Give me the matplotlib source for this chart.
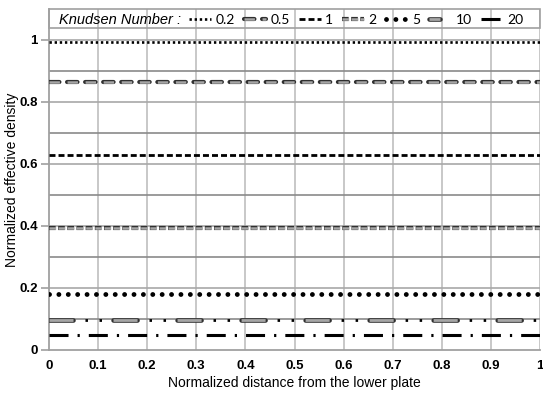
import matplotlib
matplotlib.use("Agg")
import matplotlib.pyplot as plt
import matplotlib.patheffects as pe
from matplotlib.patches import Rectangle
from matplotlib.legend_handler import HandlerTuple
import numpy as np

plt.rcParams['lines.scale_dashes'] = False

knudsen = ['0.2', '0.5', '1', '2', '5', '10', '20']
density = [0.995, 0.865, 0.63, 0.395, 0.18, 0.097, 0.05]
x_ends = [0.0, 1.0]
x_ticks = [0, 0.1, 0.2, 0.3, 0.4, 0.5, 0.6, 0.7, 0.8, 0.9, 1]
x_ticklabels = ['0', '0.1', '0.2', '0.3', '0.4', '0.5', '0.6', '0.7', '0.8', '0.9', '1']
y_ticks = [0, 0.2, 0.4, 0.6, 0.8, 1]
y_ticklabels = ['0', '0.2', '0.4', '0.6', '0.8', '1']

fig = plt.figure(figsize=(5.43, 3.96), dpi=100)
ax = fig.add_axes([49/543, 1-350/396, (540-49)/543, (350-9)/396])
ax.set_xlim(0, 1)
ax.set_ylim(0, 1.1)

# gridlines
for xv in np.arange(0.1, 1.01, 0.1):
    ax.axvline(xv, color='#c4c4c4', lw=1.3, zorder=1)
for i in range(1, 11):
    yv = i * 0.1
    col = '#a8a8a8' if i % 2 == 0 else '#8a8a8a'
    ax.axhline(yv, color=col, lw=1.2, zorder=1)

def outline(lw, cap='butt'):
    return [pe.Stroke(linewidth=lw, foreground='#303030', capstyle=cap), pe.Normal()]

handles = []
y = density
# 0.2 small dots
h, = ax.plot(x_ends, [y[0]]*2, color='black', lw=1.9, ls=(0, (1.7, 2.0)),
             dash_capstyle='butt', zorder=3)
handles.append(h)
# 0.5 outlined gray dashes
h, = ax.plot(x_ends, [y[1]]*2, color='#a6a6a6', lw=1.8, ls=(0, (7.5, 5.5)),
             dash_capstyle='butt', zorder=3, path_effects=outline(3.0, 'round'))
handles.append(h)
# 1 black dashes
h, = ax.plot(x_ends, [y[2]]*2, color='black', lw=2.0, ls=(0, (4.3, 2.2)),
             dash_capstyle='butt', zorder=3)
handles.append(h)
# 2 outlined gray dense dashes
h, = ax.plot(x_ends, [y[3]]*2, color='#a6a6a6', lw=1.8, ls=(0, (4.8, 1.8)),
             dash_capstyle='butt', zorder=3, path_effects=outline(3.0))
handles.append(h)
# 5 round dots
h, = ax.plot(x_ends, [y[4]]*2, color='black', lw=3.5, ls=(0, (0.01, 6.75)),
             dash_capstyle='round', zorder=3)
handles.append(h)
# 10 long outlined gray dash + two dots
h10a, = ax.plot(x_ends, [y[5]]*2, color='#a6a6a6', lw=2.0, ls=(0, (17.3, 28.8)),
                dash_capstyle='butt', zorder=3, path_effects=outline(3.3, 'round'))
h10b, = ax.plot(x_ends, [y[5]]*2, color='black', lw=2.0, ls=(20.2, (1.8, 8.3, 1.8, 34.2)),
                dash_capstyle='butt', zorder=3)
handles.append((h10a, h10b))
# 20 dash-dot
h, = ax.plot(x_ends, [y[6]]*2, color='black', lw=2.2, ls=(0, (13.7, 6.5, 1.6, 6.5)),
             dash_capstyle='butt', zorder=3)
handles.append(h)

# axes styling
for s in ['top', 'right']:
    ax.spines[s].set_visible(False)
for s in ['left', 'bottom']:
    ax.spines[s].set_color('#a0a0a0')
    ax.spines[s].set_linewidth(1.3)
ax.set_xticks(x_ticks)
ax.set_xticklabels(x_ticklabels, fontfamily='Liberation Sans', fontweight='bold', fontsize=9.5)
ax.set_yticks(y_ticks)
ax.set_yticklabels(y_ticklabels, fontfamily='Liberation Sans', fontweight='bold', fontsize=9.5)
ax.tick_params(axis='y', direction='out', length=6, color='#a0a0a0', width=1.2, pad=2)
ax.tick_params(axis='x', length=0, pad=7)
ax.set_xlabel('Normalized distance from the lower plate', fontfamily='Liberation Sans',
              fontsize=10)
ax.xaxis.set_label_coords(0.5, -(383 - 350) / 341)
ax.xaxis.label.set_va('center')
ax.set_ylabel('Normalized effective density', fontfamily='Liberation Sans', fontsize=10)
ax.yaxis.set_label_coords(-(49 - 12) / 491, 0.5)
ax.yaxis.label.set_va('center')

# legend frame and title text
yc = (1.1 - 0.035) / 1.1
ax.add_patch(Rectangle((0, 1.039/1.1), 1, 1 - 1.039/1.1, transform=ax.transAxes,
                       fill=False, edgecolor='#a0a0a0', lw=1.2, clip_on=False, zorder=4))
ax.text(10/491, yc, 'Knudsen Number :', transform=ax.transAxes,
        fontfamily='Liberation Sans', fontstyle='italic', fontsize=10.5, va='center', ha='left')
leg = ax.legend(handles, knudsen, ncol=7, frameon=False, loc='center left',
                bbox_to_anchor=(140/491, yc),
                prop={'family': 'Lato', 'size': 10}, handlelength=1.6,
                handletextpad=0.3, columnspacing=0.65, borderpad=0, borderaxespad=0,
                handler_map={tuple: HandlerTuple(ndivide=None, pad=0)})

fig.savefig('out.png', dpi=100)
